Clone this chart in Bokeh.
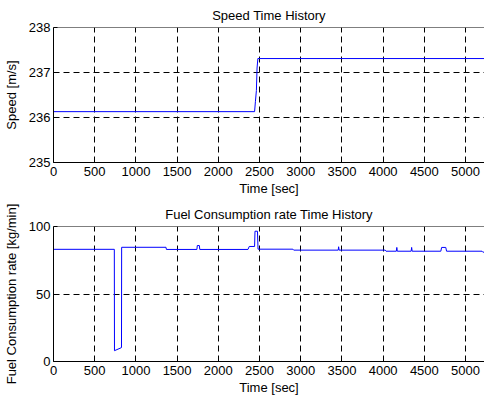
from bokeh.plotting import figure
from bokeh.layouts import column
from bokeh.models import Range1d, FixedTicker, Span
from bokeh.embed import file_html
from bokeh.resources import INLINE

# ---- data ----
time_speed = [0, 2440, 2450, 2462, 2470, 2480, 5230]
speed = [236.13, 236.13, 236.35, 236.6, 237.1, 237.31, 237.31]

time_fuel = [0, 738, 740, 825, 827, 1365, 1370, 1740, 1745, 1770, 1775,
             2360, 2375, 2440, 2445, 2475, 2482, 2905, 2915, 3455, 3460,
             3466, 4025, 4035, 4160, 4166, 4172, 4340, 4346, 4352, 4700,
             4710, 4760, 4770, 5200, 5210, 5230]
fuel = [83.1, 83.1, 8.0, 10.3, 84.6, 84.6, 83.0, 83.0, 85.9, 85.9, 83.0,
        83.0, 85.2, 85.2, 96.5, 96.5, 83.2, 83.2, 82.5, 82.5, 85.0,
        82.5, 82.5, 81.7, 81.7, 84.5, 81.7, 81.7, 84.5, 81.7, 81.7,
        84.5, 84.5, 81.7, 81.7, 81.0, 81.0]

x_ticks = [0, 500, 1000, 1500, 2000, 2500, 3000, 3500, 4000, 4500, 5000]
speed_ticks = [235, 236, 237, 238]
fuel_ticks = [0, 50, 100]
x_limits = (0, 5230)
speed_limits = (235, 238)
fuel_limits = (0, 100)

FONT = "Liberation Sans"
FS = "13px"


def make_fig(title, ylabel, ylim, yticks, height, border_bottom):
    p = figure(width=484, height=height, output_backend="svg",
               toolbar_location=None, tools="",
               x_range=Range1d(*x_limits), y_range=Range1d(*ylim),
               min_border_left=47, min_border_right=0,
               min_border_top=25, min_border_bottom=border_bottom)
    p.background_fill_color = "white"
    p.border_fill_color = "white"
    p.outline_line_color = None

    p.title.text = title
    p.title.align = "center"
    p.title.text_font = FONT
    p.title.text_font_size = FS
    p.title.text_font_style = "normal"
    p.title.text_color = "black"
    p.title.standoff = 10

    for ax in (p.xaxis[0], p.yaxis[0]):
        ax.axis_line_color = "black"
        ax.major_tick_line_color = "black"
        ax.major_tick_in = 4
        ax.major_tick_out = 0
        ax.minor_tick_line_color = None
        ax.major_label_text_font = FONT
        ax.major_label_text_font_size = FS
        ax.major_label_text_color = "black"
        ax.axis_label_text_font = FONT
        ax.axis_label_text_font_size = FS
        ax.axis_label_text_font_style = "normal"
        ax.axis_label_text_color = "black"

    p.xaxis.ticker = FixedTicker(ticks=x_ticks)
    p.yaxis.ticker = FixedTicker(ticks=yticks)
    p.xaxis.axis_label = "Time [sec]"
    p.yaxis.axis_label = ylabel
    p.xaxis.major_label_standoff = 4
    p.xaxis.axis_label_standoff = 2
    p.yaxis.major_label_standoff = 3
    p.yaxis.axis_label_standoff = 7

    for g in (p.xgrid[0], p.ygrid[0]):
        g.grid_line_color = "black"
        g.grid_line_dash = "6 4"
        g.grid_line_width = 1
    p.xgrid.ticker = FixedTicker(ticks=x_ticks)
    p.ygrid.ticker = FixedTicker(ticks=yticks)

    p.add_layout(Span(location=ylim[1], dimension="width",
                      line_color="black", line_width=1))
    return p


p1 = make_fig("Speed Time History", "Speed [m/s]", speed_limits,
              speed_ticks, 199, 37)
p1.line(time_speed, speed, line_color="#0000ff", line_width=1)

p2 = make_fig("Fuel Consumption rate Time History",
              "Fuel Consumption rate [kg/min]", fuel_limits,
              fuel_ticks, 198, 36)
p2.line(time_fuel, fuel, line_color="#0000ff", line_width=1)

layout = column(p1, p2, spacing=0)
open("out.html", "w").write(file_html(layout, INLINE))
